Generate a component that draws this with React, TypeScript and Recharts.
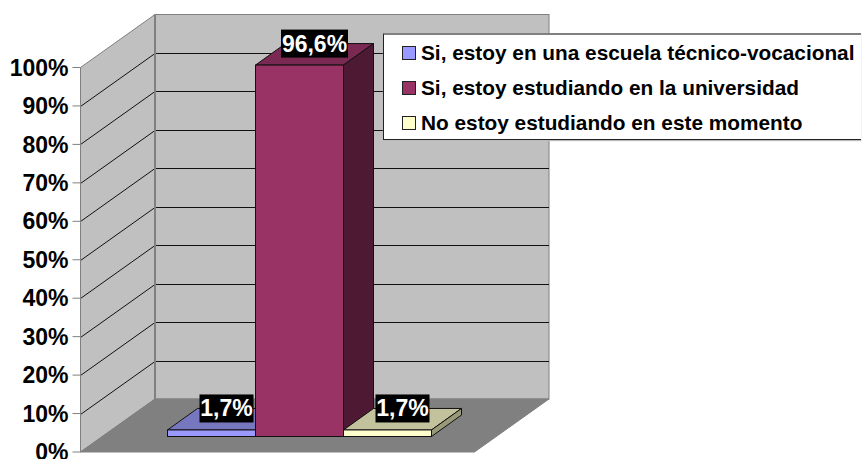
import React from "react";
import { BarChart, Bar, XAxis, YAxis, ReferenceArea, Legend, LabelList } from "recharts";

const categories = ["Estudios"];
const seriesNames = [
  "Si, estoy en una escuela técnico-vocacional",
  "Si, estoy estudiando en la universidad",
  "No estoy estudiando en este momento",
];
const seriesValues = [1.7, 96.6, 1.7];
const tickValues = [0, 10, 20, 30, 40, 50, 60, 70, 80, 90, 100];

const frontColors = ["#9999ff", "#993366", "#ffffcc"];
const topColors = ["#7777c0", "#7a2952", "#c2c29c"];
const sideColors = ["#5c5c99", "#4d1933", "#99997a"];

const FONT = "'Liberation Sans', Arial, sans-serif";
// 3d offsets in px
const WALL_DX = 74.5;
const WALL_DY = 53;
const BAR_SHIFT_X = 21.5;
const BAR_SHIFT_Y = 15.5;
const BAR_DX = 30;
const BAR_DY = 21.5;

const data = categories.map((name) => {
  const row: any = { name };
  seriesNames.forEach((s, i) => (row[s] = seriesValues[i]));
  return row;
});

const Walls = ({ x, y, width, height }: any) => {
  const bottom = y + height;
  const right = x + width;
  const pts = (...p: number[][]) => p.map((q) => q.join(",")).join(" ");
  return (
    <g>
      <polygon
        points={pts([x, y], [x + WALL_DX, y - WALL_DY], [x + WALL_DX, bottom - WALL_DY], [x, bottom])}
        fill="#c0c0c0"
        stroke="#808080"
      />
      <rect
        x={x + WALL_DX}
        y={y - WALL_DY}
        width={width}
        height={height}
        fill="#c0c0c0"
        stroke="#808080"
      />
      <polygon
        points={pts([x, bottom], [x + WALL_DX, bottom - WALL_DY], [right + WALL_DX, bottom - WALL_DY], [right, bottom])}
        fill="#808080"
        stroke="#808080"
      />
      {tickValues
        .filter((t) => t > 0 && t < 100)
        .map((t) => {
          const ty = Math.round(bottom - (height * t) / 100) + 0.5;
          return (
            <polyline
              key={t}
              points={pts([x, ty], [x + WALL_DX, ty - WALL_DY], [right + WALL_DX, ty - WALL_DY])}
              fill="none"
              stroke="#111"
            />
          );
        })}
      <line x1={x + WALL_DX} x2={x + WALL_DX} y1={y - WALL_DY} y2={bottom - WALL_DY} stroke="#808080" strokeWidth={2} />
    </g>
  );
};

const Box = ({ x, y, width, height, index }: any) => {
  const x0 = x + BAR_SHIFT_X;
  const y0 = y - BAR_SHIFT_Y;
  const x1 = x0 + width;
  const y1 = y0 + height;
  return (
    <g stroke="#111" strokeWidth={1}>
      <polygon
        points={`${x0},${y0} ${x0 + BAR_DX},${y0 - BAR_DY} ${x1 + BAR_DX},${y0 - BAR_DY} ${x1},${y0}`}
        fill={topColors[index]}
      />
      <polygon
        points={`${x1},${y0} ${x1 + BAR_DX},${y0 - BAR_DY} ${x1 + BAR_DX},${y1 - BAR_DY} ${x1},${y1}`}
        fill={sideColors[index]}
      />
      <rect x={x0} y={y0} width={width} height={height} fill={frontColors[index]} />
    </g>
  );
};

const BarLabel = ({ x, y, width, value }: any) => {
  const text = value.toFixed(1).replace(".", ",") + "%";
  const cx = x + width / 2 + BAR_SHIFT_X + 15;
  const cy = y - BAR_SHIFT_Y - 21.5;
  const w = text.length > 4 ? 67 : 54;
  return (
    <g>
      <rect x={cx - w / 2} y={cy - 14} width={w} height={28} fill="#000" />
      <text
        x={cx}
        y={cy + 8}
        textAnchor="middle"
        fill="#fff"
        fontFamily={FONT}
        fontWeight="bold"
        fontSize={23}
      >
        {text}
      </text>
    </g>
  );
};

const LegendBox = ({ payload }: any) => (
  <div
    style={{
      width: 478,
      height: 107,
      boxSizing: "border-box",
      background: "#fff",
      borderTop: "2px solid #808080",
      borderLeft: "1px solid #222",
      borderBottom: "1px solid #222",
      boxShadow: "0 1px 1px #bbb",
      fontFamily: FONT,
      fontWeight: "bold",
      fontSize: 20.8,
      color: "#000",
    }}
  >
    {(payload || []).map((p: any, i: number) => (
      <div key={p.value} style={{ display: "flex", alignItems: "center", height: 35.3, whiteSpace: "nowrap" }}>
        <span
          style={{
            display: "inline-block",
            boxSizing: "border-box",
            width: 14,
            height: 14,
            marginLeft: 18,
            marginRight: 5,
            background: frontColors[i],
            border: "1px solid #222",
          }}
        />
        {p.value}
      </div>
    ))}
  </div>
);

export default function App() {
  return (
    <div style={{ position: "absolute", left: 0, top: 0, width: 862, height: 459, overflow: "hidden", background: "#fff" }}>
      <BarChart
        width={862}
        height={459}
        data={data}
        margin={{ top: 67.5, right: 387.5, left: 0, bottom: 7 }}
        barCategoryGap={65.5}
        barGap={0}
      >
        <XAxis dataKey="name" height={0} tick={false} tickLine={false} stroke="#606060" />
        <YAxis
          width={80.5}
          domain={[0, 100]}
          ticks={tickValues}
          interval={0}
          tickFormatter={(v: number) => `${v}%`}
          tickSize={8}
          tickMargin={4}
          stroke="#808080"
          tick={{ fill: "#000", fontFamily: FONT, fontWeight: "bold", fontSize: 23 }}
        />
        <ReferenceArea y1={0} y2={100} shape={<Walls />} />
        {seriesNames.map((s, i) => (
          <Bar
            key={s}
            dataKey={s}
            name={s}
            fill={frontColors[i]}
            isAnimationActive={false}
            shape={(props: any) => <Box {...props} index={i} />}
          >
            <LabelList dataKey={s} content={<BarLabel />} />
          </Bar>
        ))}
        <Legend
          content={<LegendBox />}
          layout="vertical"
          align="center"
          verticalAlign="middle"
          itemSorter={null}
          wrapperStyle={{ position: "absolute", left: 383, top: 33, width: 478, bottom: "auto", margin: 0 }}
        />
      </BarChart>
    </div>
  );
}
